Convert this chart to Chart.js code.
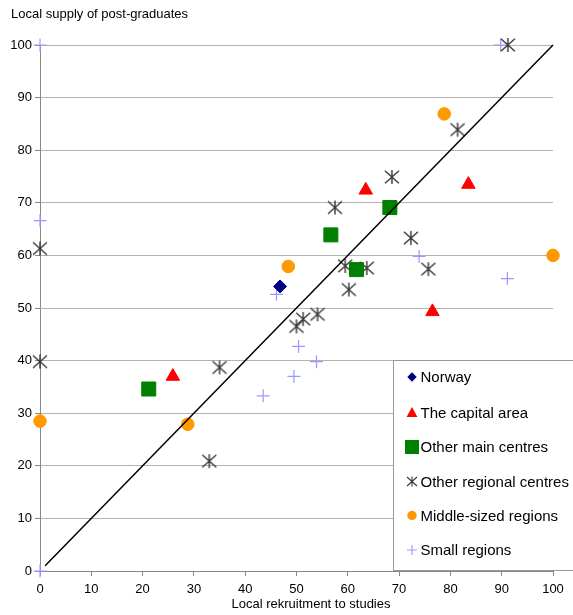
<!DOCTYPE html>
<html>
<head>
<meta charset="utf-8">
<script src="https://cdn.jsdelivr.net/npm/chart.js@4/dist/chart.umd.min.js"></script>
<style>
  html, body { margin: 0; padding: 0; background: #fff; }
  #wrap { width: 573px; height: 615px; }
</style>
</head>
<body>
<div id="wrap"><canvas id="c" width="573" height="615"></canvas></div>
<script>
// Recruitment vs. local supply of post-graduates, by region type (percent)
const norwayX   = [46.8];
const norwayY   = [54.1];
const capitalX  = [25.9, 63.5, 76.5, 83.5];
const capitalY  = [37.0, 72.4, 49.3, 73.5];
const mainX     = [21.2, 56.7, 61.7, 68.2];
const mainY     = [34.6, 63.9, 57.3, 69.1];
const regionalX = [0, 0, 33.0, 35.0, 50.0, 51.3, 54.1, 60.2, 59.5, 63.7, 57.5, 68.6, 72.3, 75.7, 81.4, 91.2];
const regionalY = [39.8, 61.3, 20.9, 38.7, 46.5, 47.9, 48.8, 53.5, 58.0, 57.6, 69.1, 74.9, 63.3, 57.4, 83.9, 100];
const middleX   = [0, 28.8, 48.4, 78.8, 100];
const middleY   = [28.5, 27.9, 57.9, 86.9, 60.0];
const smallX    = [0, 0, 0, 89.8, 73.9, 91.1, 46.1, 50.4, 53.9, 49.5, 43.5];
const smallY    = [100, 66.6, 0, 100, 59.8, 55.6, 52.6, 42.7, 39.8, 37.0, 33.3];
const diagX     = [1, 100];
const diagY     = [1, 100];
const tickValues = [0, 10, 20, 30, 40, 50, 60, 70, 80, 90, 100];
const seriesNames = ['Norway', 'The capital area', 'Other main centres', 'Other regional centres', 'Middle-sized regions', 'Small regions'];

const FONT = "'Liberation Sans', Arial, sans-serif";

function pts(xs, ys) { return xs.map((x, i) => ({ x: x, y: ys[i] })); }

// six-armed asterisk marker (X with a vertical bar)
function starMarker(half, color, lw) {
  const s = Math.ceil(half * 2 + 4);
  const cv = document.createElement('canvas');
  cv.width = s; cv.height = s;
  const g = cv.getContext('2d');
  const c = s / 2;
  g.strokeStyle = color; g.lineWidth = lw;
  g.beginPath();
  g.moveTo(c - half, c - half * 0.9); g.lineTo(c + half, c + half * 0.9);
  g.moveTo(c + half, c - half * 0.9); g.lineTo(c - half, c + half * 0.9);
  g.moveTo(c, c - half); g.lineTo(c, c + half);
  g.stroke();
  return cv;
}
const starBig = starMarker(7, '#383838', 1.4);

const base = { showLine: false, clip: false, borderWidth: 1 };

const datasets = [
  { label: 'diagonal', data: pts(diagX, diagY), showLine: true, borderColor: '#000', borderWidth: 1.5, pointRadius: 0, pointHoverRadius: 0, clip: false, fill: false },
  Object.assign({}, base, { label: seriesNames[0], data: pts(norwayX, norwayY), pointStyle: 'rectRot', pointRadius: 6.5, backgroundColor: '#000080', borderColor: '#000080' }),
  Object.assign({}, base, { label: seriesNames[1], data: pts(capitalX, capitalY), pointStyle: 'triangle', pointRadius: 7.8, backgroundColor: '#ff0000', borderColor: '#ff0000' }),
  Object.assign({}, base, { label: seriesNames[2], data: pts(mainX, mainY), pointStyle: 'rect', pointRadius: 9.9, backgroundColor: '#008000', borderColor: '#008000' }),
  Object.assign({}, base, { label: seriesNames[3], data: pts(regionalX, regionalY), pointStyle: starBig, pointRadius: 7, backgroundColor: '#383838', borderColor: '#383838' }),
  Object.assign({}, base, { label: seriesNames[4], data: pts(middleX, middleY), pointStyle: 'circle', pointRadius: 6.3, backgroundColor: '#ff9900', borderColor: '#ff9900' }),
  Object.assign({}, base, { label: seriesNames[5], data: pts(smallX, smallY), pointStyle: 'cross', pointRadius: 6.5, backgroundColor: '#9999ff', borderColor: '#9999ff', borderWidth: 1.2 })
];

// legend marker painters
function legendMarker(ctx, i, x, y) {
  ctx.save();
  ctx.lineWidth = 1;
  switch (i) {
    case 0:
      ctx.fillStyle = '#000080';
      ctx.beginPath(); ctx.moveTo(x, y - 4.7); ctx.lineTo(x + 4.7, y); ctx.lineTo(x, y + 4.7); ctx.lineTo(x - 4.7, y); ctx.closePath(); ctx.fill();
      break;
    case 1:
      ctx.fillStyle = '#ff0000';
      ctx.beginPath(); ctx.moveTo(x, y - 5.5); ctx.lineTo(x + 5.4, y + 4.5); ctx.lineTo(x - 5.4, y + 4.5); ctx.closePath(); ctx.fill();
      break;
    case 2:
      ctx.fillStyle = '#008000';
      ctx.fillRect(x - 7, y - 7, 14, 14);
      break;
    case 3:
      ctx.strokeStyle = '#383838'; ctx.lineWidth = 1.1;
      ctx.beginPath();
      ctx.moveTo(x - 5, y - 4.5); ctx.lineTo(x + 5, y + 4.5);
      ctx.moveTo(x + 5, y - 4.5); ctx.lineTo(x - 5, y + 4.5);
      ctx.moveTo(x, y - 5); ctx.lineTo(x, y + 5);
      ctx.stroke();
      break;
    case 4:
      ctx.fillStyle = '#ff9900';
      ctx.beginPath(); ctx.arc(x, y, 4.7, 0, Math.PI * 2); ctx.fill();
      break;
    case 5:
      ctx.strokeStyle = '#9999ff'; ctx.lineWidth = 1.1;
      ctx.beginPath(); ctx.moveTo(x - 5, y); ctx.lineTo(x + 5, y); ctx.moveTo(x, y - 5); ctx.lineTo(x, y + 5); ctx.stroke();
      break;
  }
  ctx.restore();
}

const decorations = {
  id: 'decorations',
  afterDraw(chart) {
    const ctx = chart.ctx;
    ctx.save();
    // axis titles
    ctx.fillStyle = '#000';
    ctx.font = '13px ' + FONT;
    ctx.textBaseline = 'middle';
    ctx.textAlign = 'left';
    ctx.fillText('Local supply of post-graduates', 11, 14);
    ctx.textAlign = 'center';
    ctx.fillText('Local rekruitment to studies', 311, 604);

    // legend box
    const bx = 393.5, by = 360.5, bw = 200, bh = 210;
    ctx.fillStyle = '#fff';
    ctx.fillRect(bx, by, bw, bh);
    ctx.strokeStyle = '#999';
    ctx.lineWidth = 1;
    ctx.strokeRect(bx, by, bw, bh);
    const rows = [377, 412.5, 447, 481.5, 515.5, 550];
    ctx.font = '15px ' + FONT;
    ctx.textAlign = 'left';
    ctx.textBaseline = 'middle';
    seriesNames.forEach((name, i) => {
      legendMarker(ctx, i, 412, rows[i]);
      ctx.fillStyle = '#000';
      ctx.fillText(name, 420.5, rows[i] + 1);
    });
    ctx.restore();
  }
};

new Chart(document.getElementById('c'), {
  type: 'scatter',
  data: { datasets: datasets },
  options: {
    responsive: false,
    animation: false,
    events: [],
    layout: { padding: { left: 0, right: 20, top: 45, bottom: 0 } },
    plugins: { legend: { display: false }, tooltip: { enabled: false } },
    elements: { line: { tension: 0 } },
    scales: {
      x: {
        type: 'linear', min: 0, max: 100,
        afterFit(scale) { scale.height = 44; },
        afterBuildTicks(scale) { scale.ticks = tickValues.map(v => ({ value: v })); },
        ticks: { color: '#000', font: { family: FONT, size: 13 }, padding: 6, maxRotation: 0, autoSkip: false },
        grid: { drawOnChartArea: false, drawTicks: true, tickLength: 5, color: '#888' },
        border: { display: true, color: '#888', width: 1 }
      },
      y: {
        type: 'linear', min: 0, max: 100,
        afterFit(scale) { scale.width = 40; },
        afterBuildTicks(scale) { scale.ticks = tickValues.map(v => ({ value: v })); },
        ticks: { color: '#000', font: { family: FONT, size: 13 }, padding: 3, autoSkip: false },
        grid: { drawOnChartArea: true, drawTicks: true, tickLength: 5, color: '#b3b3b3', tickColor: '#888', lineWidth: 1 },
        border: { display: true, color: '#888', width: 1 }
      }
    }
  },
  plugins: [decorations]
});
</script>
</body>
</html>
